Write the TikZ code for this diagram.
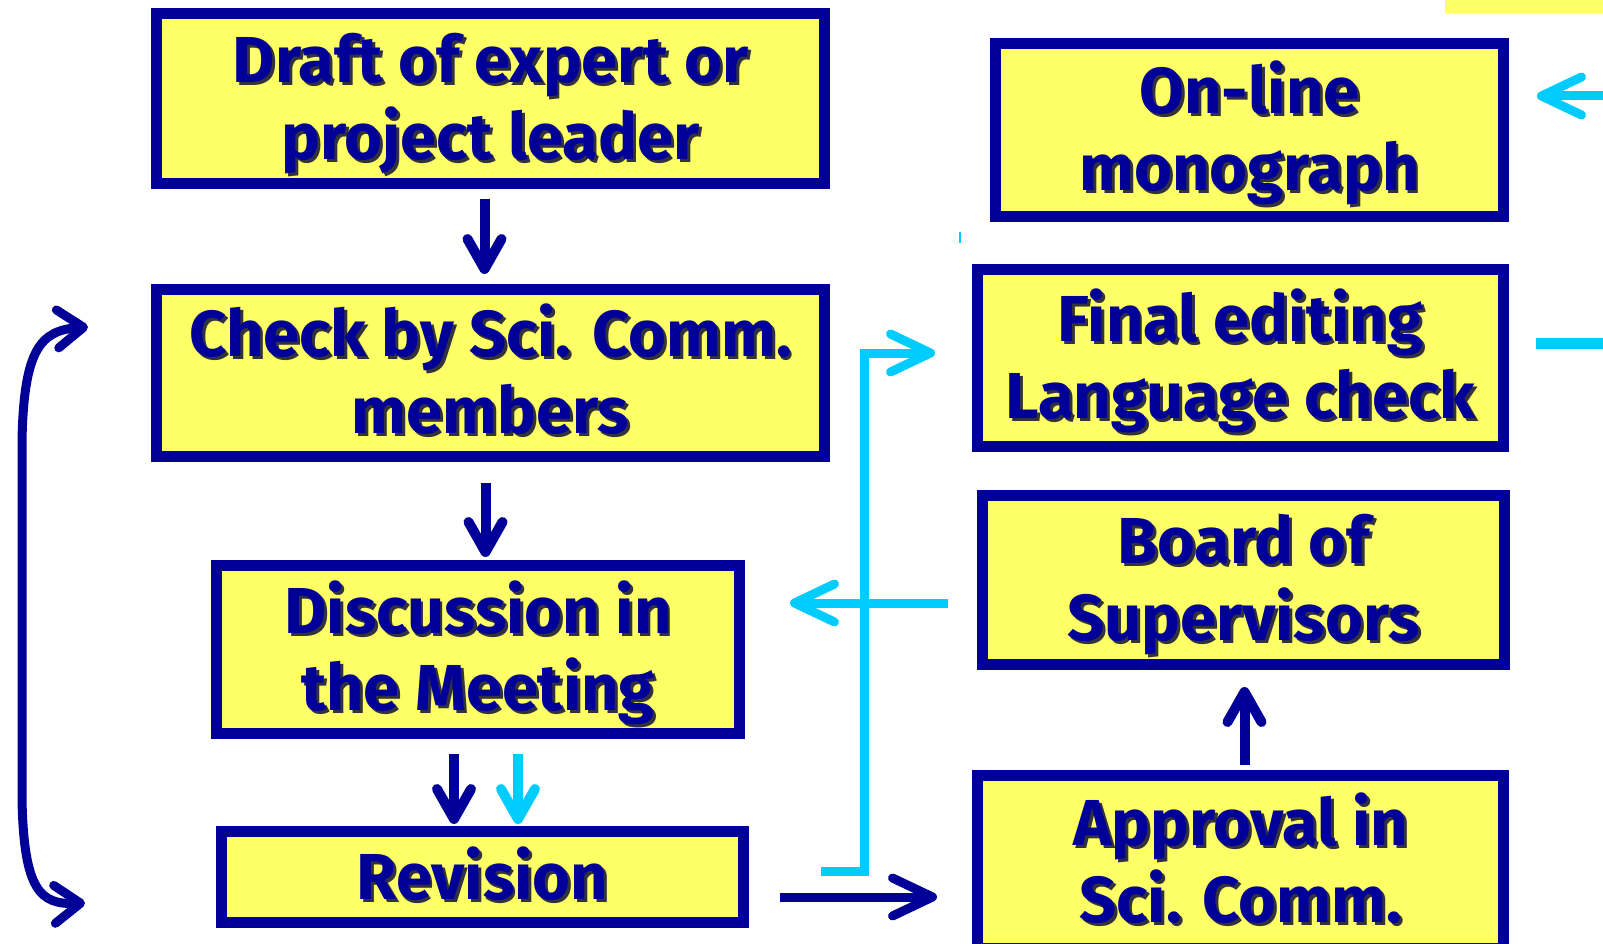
\documentclass[tikz,border=0pt]{standalone}
\usepackage{fontspec}
\setmainfont{Fira Sans}
\usetikzlibrary{arrows.meta}
\definecolor{navyline}{RGB}{0,0,153}
\definecolor{boxfill}{RGB}{255,255,102}
\definecolor{skyline}{RGB}{0,204,255}
\definecolor{shade}{RGB}{50,50,60}
% text with a small drop shadow
\newcommand{\dropshade}[1]{%
  \raisebox{-7pt}[\height][\depth]{%
  \makebox[0pt][l]{\raisebox{-3pt}[0pt][0pt]{\hspace{3pt}\textcolor{shade}{\begin{tabular}{@{}c@{}}#1\end{tabular}}}}%
  \begin{tabular}{@{}c@{}}#1\end{tabular}}}

\begin{document}
\begin{tikzpicture}[
    x=1pt, y=-1pt,
    box/.style={draw=navyline, line width=11pt, fill=boxfill, inner sep=0pt,
      text=navyline, font=\fontsize{65}{77}\selectfont\bfseries},
    navyarr/.style={navyline, line width=9pt,
      -{Straight Barb[round, length=40pt, width=38pt]}},
    navydown/.style={navyline, line width=10pt,
      -{Straight Barb[round, length=30pt, width=34pt]}},
    skyarr/.style={skyline, line width=9pt,
      -{Straight Barb[round, length=40pt, width=38pt]}},
    skydown/.style={skyline, line width=10pt,
      -{Straight Barb[round, length=30pt, width=34pt]}},
]
\useasboundingbox (0,0) rectangle (1603,944);
\clip (0,0) rectangle (1603,944);

% Left column
\node[box, minimum width=668, minimum height=170] (draft) at (490.5,98.5)
    {\dropshade{Draft of expert or\\project leader}};
\node[box, minimum width=668, minimum height=167] (check) at (490.5,373)
    {\dropshade{Check by Sci. Comm.\\members}};
\node[box, minimum width=523, minimum height=168] (discuss) at (478,649.5)
    {\dropshade{Discussion in\\the Meeting}};
\node[box, minimum width=522, minimum height=91] (revision) at (482.5,877)
    {\dropshade{Revision}};

% Right column
\node[box, minimum width=508, minimum height=173] (online) at (1249.5,130)
    {\dropshade{On-line\\monograph}};
\node[box, minimum width=526, minimum height=177] (final) at (1240.5,358)
    {\dropshade{Final editing\\Language check}};
\node[box, minimum width=522, minimum height=169] (board) at (1243.5,580)
    {\dropshade{Board of\\Supervisors}};
\node[box, minimum width=526, minimum height=173] (approval) at (1240.5,862)
    {\dropshade{Approval in\\Sci. Comm.}};

% bits at the right edge
\fill[boxfill] (1445,0) rectangle (1603,13);
\fill[skyline] (959,232) rectangle (961,243);

% Loose ends
\coordinate (loopTop) at (88,327);
\coordinate (loopBot) at (85,903);
\coordinate (revSky) at (821,871);
\coordinate (revNavy) at (780,897);
\coordinate (boardSky) at (948,603);
\coordinate (edgeIn) at (1603,96);
\coordinate (edgeOut) at (1603,343);

% Main flow
\draw[navydown, shorten <=10pt, shorten >=10pt] ([xshift=-6]draft.south) -- ([xshift=-6]check.north);
\draw[navydown, shorten <=21pt, shorten >=3pt] ([xshift=-5]check.south) -- ([xshift=-5]check.south |- discuss.north);
\draw[navydown, shorten <=15pt, shorten >=2pt] ([xshift=-24]discuss.south) -- ([xshift=-24]discuss.south |- revision.north);
\draw[skydown, shorten <=15pt, shorten >=2pt] ([xshift=40]discuss.south) -- ([xshift=40]discuss.south |- revision.north);
\draw[navyarr] (revNavy) -- ([xshift=-35]approval.west |- revNavy);
\draw[navydown, shorten <=5pt, shorten >=17pt] ([xshift=4]approval.north) -- ([xshift=4]approval.north |- board.south);

% Revision back to the check
\draw[navyline, line width=9pt, line cap=round, <->, >={Straight Barb[round, length=26pt, width=38pt]}]
    (loopTop) .. controls (40,330) and (24,350) .. (22,440) -- (22,800)
    .. controls (24,890) and (40,905) .. (loopBot);

% Cyan paths
\draw[skyarr] (revSky) -- (864,871) |- ([xshift=-37,yshift=5]final.west);
\draw[skyarr] (boardSky) -- ([xshift=45]discuss.east |- boardSky);
\draw[skyarr] (edgeIn) -- ([xshift=28]online.east |- edgeIn);
\draw[skyline, line width=11pt] (edgeOut) -- ([xshift=27]final.east |- edgeOut);
\end{tikzpicture}
\end{document}
